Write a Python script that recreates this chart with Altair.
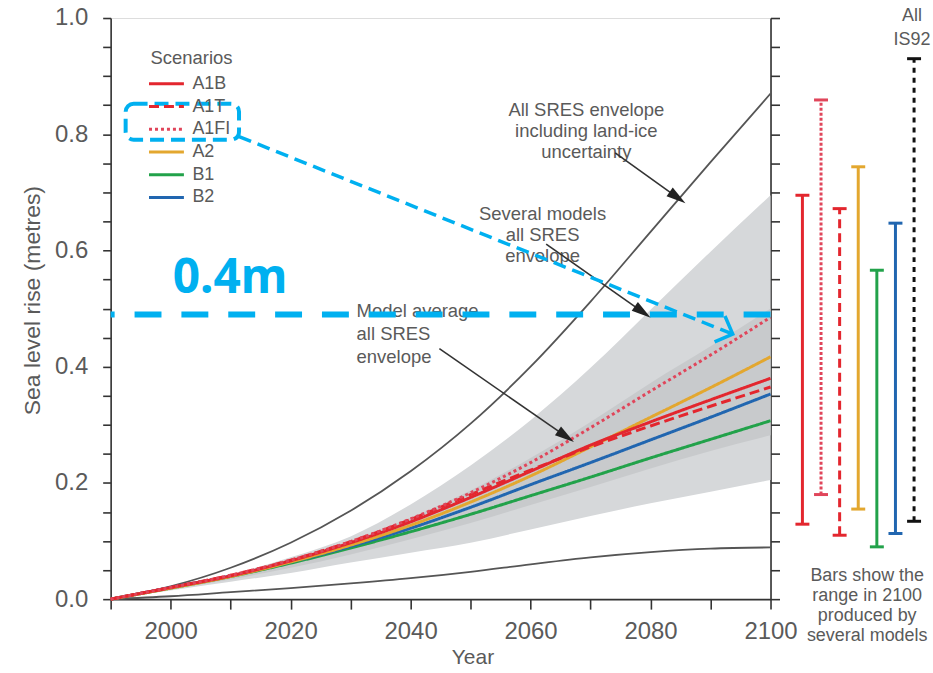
import math
import altair as alt
import pandas as pd

# ---------------- data ----------------
years = [1990, 2000, 2010, 2020, 2030, 2040, 2050, 2060, 2070, 2080, 2090, 2100]

env_upper = [0, 0.022, 0.054, 0.097, 0.152, 0.220, 0.302, 0.400, 0.512, 0.632, 0.752, 0.870]
env_lower = [0, 0.005, 0.012, 0.019, 0.027, 0.036, 0.047, 0.06, 0.072, 0.081, 0.087, 0.089]
models_hi = [0, 0.018, 0.042, 0.072, 0.108, 0.163, 0.230, 0.308, 0.398, 0.498, 0.598, 0.695]
models_lo = [0, 0.015, 0.03, 0.045, 0.063, 0.08, 0.097, 0.12, 0.143, 0.165, 0.185, 0.205]
avg_hi = [0, 0.021, 0.042, 0.069, 0.101, 0.14, 0.187, 0.243, 0.305, 0.372, 0.435, 0.50]
avg_lo = [0, 0.017, 0.034, 0.054, 0.077, 0.103, 0.131, 0.162, 0.193, 0.225, 0.255, 0.282]

scenarios = ["A1B", "A1T", "A1FI", "A2", "B1", "B2"]
s_A1B = [0, 0.02, 0.04, 0.066, 0.097, 0.133, 0.175, 0.22, 0.265, 0.305, 0.343, 0.38]
s_A1T = [0, 0.02, 0.041, 0.067, 0.099, 0.137, 0.18, 0.222, 0.262, 0.298, 0.332, 0.365]
s_A1FI = [0, 0.02, 0.041, 0.067, 0.099, 0.138, 0.183, 0.235, 0.295, 0.358, 0.42, 0.485]
s_A2 = [0, 0.019, 0.039, 0.064, 0.093, 0.127, 0.167, 0.212, 0.262, 0.313, 0.364, 0.417]
s_B1 = [0, 0.019, 0.039, 0.062, 0.088, 0.116, 0.146, 0.178, 0.21, 0.243, 0.275, 0.307]
s_B2 = [0, 0.02, 0.04, 0.064, 0.091, 0.122, 0.158, 0.197, 0.235, 0.274, 0.313, 0.353]

bar_scen = ["A1B", "A1FI", "A1T", "A2", "B1", "B2", "IS92"]
bar_lo = [0.129, 0.18, 0.11, 0.155, 0.09, 0.113, 0.134]
bar_hi = [0.695, 0.859, 0.672, 0.744, 0.566, 0.647, 0.93]

ann_text = ["All SRES envelope\nincluding land-ice\nuncertainty",
            "Several models\nall SRES\nenvelope",
            "Model average\nall SRES\nenvelope"]
ann_x = [2069.3, 2062.0, 2031.0]
ann_y = [0.842, 0.662, 0.496]          # first text line
arrow_x1 = [2074.1, 2062.6, 2044.8]
arrow_y1 = [0.768, 0.611, 0.431]
arrow_x2 = [2084.5, 2078.7, 2065.9]
arrow_y2 = [0.691, 0.494, 0.280]

cyan_level = 0.49
cyan_label = "0.4m"
cyan_label_x = 2009.9
cyan_label_y = 0.551
box_x = [1992.5, 2011.4]
box_y = [0.7907, 0.8525]
cyan_arrow = [2011.4, 0.796, 2093.7, 0.456]

bars_note = "Bars show the\nrange in 2100\nproduced by\nseveral models"
bars_note_y = 0.039                    # first text line
is92_note = "All\nIS92"
is92_note_y = 1.004                    # first text line

# ---------------- styles ----------------
W, H = 662, 583
FONT = "Liberation Sans"
GREY_TXT = "#5a5a5a"
AX = "#333333"
CYAN = "#00b0f0"
sc_colors = ["#e3262e", "#e3262e", "#e0455a", "#e3a72f", "#22a24a", "#2166b0"]
sc_dash = [[1, 0], [10, 5], [3, 3], [1, 0], [1, 0], [1, 0]]
bar_colors = ["#e3262e", "#e0455a", "#e3262e", "#e3a72f", "#22a24a", "#2166b0", "#111111"]
bar_dash = [[1, 0], [3, 2], [9, 5], [1, 0], [1, 0], [1, 0], [5, 5]]

X_SCALE = alt.Scale(domain=[1990, 2100], nice=False, zero=False)
Y_SCALE = alt.Scale(domain=[0, 1], nice=False, zero=False)

X_AXIS = alt.Axis(values=list(range(1990, 2101, 10)),
                  labelExpr="datum.value % 20 == 0 ? '' + datum.value : ''",
                  tickSize=10, tickWidth=1.6, tickColor=AX, domainColor=AX, domainWidth=1.6,
                  labelPadding=10, labelFontSize=24, labelFont=FONT, labelColor=GREY_TXT,
                  labelFlush=False, labelOverlap=False, grid=False,
                  title="Year", titleFont=FONT, titleFontSize=21, titleFontWeight="normal",
                  titleColor=GREY_TXT, titleX=363, titleY=59, titleAlign="center",
                  titleBaseline="middle")

y_ticks = [round(i * 0.05, 2) for i in range(21)]
Y_AXIS_L = alt.Axis(orient="left", values=y_ticks,
                    labelExpr="round(datum.value * 20) % 4 == 0 ? format(datum.value, '.1f') : ''",
                    tickSize=8, tickWidth=1.6, tickColor=AX, domainColor=AX, domainWidth=1.6,
                    labelPadding=15, labelFontSize=24, labelFont=FONT, labelColor=GREY_TXT,
                    labelFlush=False, labelOverlap=False, grid=False,
                    title="Sea level rise (metres)", titleFont=FONT, titleFontSize=23,
                    titleFontWeight="normal", titleColor=GREY_TXT, titleX=-78, titleY=283,
                    titleAngle=270, titleAlign="center", titleBaseline="middle")
Y_AXIS_R = alt.Axis(orient="right", values=y_ticks, labels=False, tickSize=9, tickWidth=1.6,
                    tickColor=AX, domainColor=AX, domainWidth=1.6, grid=False, title=None)


def X(field):
    return alt.X(field, scale=X_SCALE, axis=X_AXIS)


def Y(field, axis=None):
    return alt.Y(field, scale=Y_SCALE, axis=axis)


# ---------------- tables ----------------
band_df = pd.DataFrame({"year": years, "mlo": models_lo, "mhi": models_hi,
                        "alo": avg_lo, "ahi": avg_hi})
env_df = pd.concat([
    pd.DataFrame({"year": years, "value": env_upper, "series": "upper"}),
    pd.DataFrame({"year": years, "value": env_lower, "series": "lower"}),
])
sc_series = {"A1B": s_A1B, "A1T": s_A1T, "A1FI": s_A1FI, "A2": s_A2, "B1": s_B1, "B2": s_B2}
draw_order = ["B1", "B2", "A2", "A1B", "A1T", "A1FI"]
sc_df = pd.concat([pd.DataFrame({"year": years, "value": sc_series[s], "scenario": s})
                   for s in draw_order])

px_per_year = W / 110.0


def ang(x1, y1, x2, y2):
    return math.degrees(math.atan2(-(y2 - y1) * H, (x2 - x1) * px_per_year)) % 360


arr_df = pd.DataFrame({"x1": arrow_x1, "y1": arrow_y1, "x2": arrow_x2, "y2": arrow_y2})
arr_df["ang"] = [ang(a, b, c, d) for a, b, c, d in zip(arrow_x1, arrow_y1, arrow_x2, arrow_y2)]
ann_df = pd.DataFrame({"x": ann_x, "y": ann_y, "t": ann_text,
                       "align": ["center", "center", "left"]})

cy_df = pd.DataFrame({"x1": [cyan_arrow[0]], "y1": [cyan_arrow[1]],
                      "x2": [cyan_arrow[2]], "y2": [cyan_arrow[3]]})
cy_df["ang"] = [ang(*cyan_arrow)]

# ---------------- main panel ----------------
light = alt.Chart(band_df).mark_area(color="#d6d8da", interpolate="monotone").encode(
    x=X("year:Q"), y=Y("mlo:Q", Y_AXIS_L), y2="mhi:Q")
dark = alt.Chart(band_df).mark_area(color="#c8cacc", interpolate="monotone").encode(
    x=X("year:Q"), y=Y("alo:Q"), y2="ahi:Q")
env = alt.Chart(env_df).mark_line(color="#555555", strokeWidth=1.8, interpolate="monotone").encode(
    x=X("year:Q"), y=Y("value:Q", Y_AXIS_R), detail="series:N")

legend = alt.Legend(title="Scenarios", orient="none", legendX=40, legendY=31, padding=0,
                    symbolType="M-1.75,0H1.75", symbolSize=400, symbolStrokeWidth=3,
                    symbolOffset=4.5, labelOffset=14.5, rowPadding=1.8, titlePadding=5,
                    titleFont=FONT, titleFontSize=18.5, titleFontWeight="normal",
                    titleColor=GREY_TXT, labelFont=FONT, labelFontSize=18, labelColor=GREY_TXT)
lines = alt.Chart(sc_df).mark_line(strokeWidth=3, interpolate="monotone").encode(
    x=X("year:Q"), y=Y("value:Q"),
    color=alt.Color("scenario:N", scale=alt.Scale(domain=scenarios, range=sc_colors), legend=legend),
    strokeDash=alt.StrokeDash("scenario:N", scale=alt.Scale(domain=scenarios, range=sc_dash),
                              legend=legend))

ann_c = alt.Chart(ann_df[ann_df["align"] == "center"]).mark_text(
    font=FONT, fontSize=18.5, color=GREY_TXT, lineBreak="\n", lineHeight=21,
    align="center", baseline="middle").encode(x=X("x:Q"), y=Y("y:Q"), text="t:N")
ann_l = alt.Chart(ann_df[ann_df["align"] == "left"]).mark_text(
    font=FONT, fontSize=18.5, color=GREY_TXT, lineBreak="\n", lineHeight=23,
    align="left", baseline="middle").encode(x=X("x:Q"), y=Y("y:Q"), text="t:N")
shafts = alt.Chart(arr_df).mark_rule(color="#333333", strokeWidth=1.6).encode(
    x=X("x1:Q"), y=Y("y1:Q"), x2="x2:Q", y2="y2:Q")
heads = alt.Chart(arr_df).mark_point(shape="M1,0L-1,-0.55L-1,0.55Z", filled=True, size=380,
                                     color="#222222", opacity=1).encode(
    x=X("x2:Q"), y=Y("y2:Q"), angle=alt.Angle("ang:Q", scale=None))

cy_rule = alt.Chart(pd.DataFrame({"v": [cyan_level]})).mark_rule(
    color=CYAN, strokeWidth=6, strokeDash=[27, 20]).encode(y=Y("v:Q"))
cy_text = alt.Chart(pd.DataFrame({"x": [cyan_label_x], "y": [cyan_label_y], "t": [cyan_label]})).mark_text(
    font="Noto Sans", fontSize=48, fontWeight="bold", color=CYAN, align="center",
    baseline="middle").encode(x=X("x:Q"), y=Y("y:Q"), text="t:N")
cy_box = alt.Chart(pd.DataFrame({"x1": [box_x[0]], "x2": [box_x[1]], "y1": [box_y[0]], "y2": [box_y[1]]})).mark_rect(
    fill=None, fillOpacity=0, stroke=CYAN, strokeWidth=4, strokeDash=[14, 7], cornerRadius=8).encode(
    x=X("x1:Q"), x2="x2:Q", y=Y("y1:Q"), y2="y2:Q")
cy_shaft = alt.Chart(cy_df).mark_rule(color=CYAN, strokeWidth=3.5, strokeDash=[13, 7]).encode(
    x=X("x1:Q"), y=Y("y1:Q"), x2="x2:Q", y2="y2:Q")
cy_head = alt.Chart(cy_df).mark_point(shape="M-1,-1L0,0L-1,1", filled=False, size=784,
                                      color=CYAN, strokeWidth=3.5, opacity=1).encode(
    x=X("x2:Q"), y=Y("y2:Q"), angle=alt.Angle("ang:Q", scale=None))

main = alt.layer(light, dark, env, lines, ann_c, ann_l, shafts, heads,
                 cy_rule, cy_text, cy_box, cy_shaft, cy_head).resolve_axis(
    y="independent").properties(width=W, height=H)

# ---------------- right panel: 2100 ranges ----------------
SIDE_W = 163
bars_df = pd.DataFrame({"scen": bar_scen, "i": list(range(len(bar_scen))),
                        "lo": bar_lo, "hi": bar_hi})
step = 18.67
PX_SCALE = alt.Scale(domain=[-32 / step, len(bar_scen) - 1 + 19 / step], nice=False, zero=False)
PX = alt.X("i:Q", scale=PX_SCALE, axis=None)
BC = alt.Color("scen:N", scale=alt.Scale(domain=bar_scen, range=bar_colors), legend=None)
BD = alt.StrokeDash("scen:N", scale=alt.Scale(domain=bar_scen, range=bar_dash), legend=None)

b_rules = alt.Chart(bars_df).mark_rule(strokeWidth=3).encode(
    x=PX, y=Y("lo:Q"), y2="hi:Q", color=BC, strokeDash=BD)
b_caps = alt.Chart(bars_df).transform_fold(["lo", "hi"], as_=["end", "val"]).mark_tick(
    thickness=3, size=14, opacity=1, orient="horizontal").encode(x=PX, y=Y("val:Q"), color=BC)
is92_i = bar_scen.index("IS92")
b_top = alt.Chart(pd.DataFrame({"i": [is92_i], "v": [is92_note_y], "t": [is92_note]})).mark_text(
    font=FONT, fontSize=18, color=GREY_TXT, lineBreak="\n", lineHeight=24, align="center",
    baseline="middle", dx=-2).encode(x=PX, y=Y("v:Q"), text="t:N")
b_note = alt.Chart(pd.DataFrame({"i": [bar_scen.index("A2")], "v": [bars_note_y], "t": [bars_note]})).mark_text(
    font=FONT, fontSize=18, color=GREY_TXT, lineBreak="\n", lineHeight=20, align="center",
    baseline="middle", dx=9).encode(x=PX, y=Y("v:Q"), text="t:N")

side = alt.layer(b_rules, b_caps, b_top, b_note).properties(
    width=SIDE_W, height=H, view=alt.ViewBackground(stroke=None))

chart = alt.hconcat(main, side, spacing=0, bounds="flush").resolve_scale(
    color="independent", strokeDash="independent", x="independent", y="independent"
).properties(
    padding={"left": 21, "top": 4, "right": 0, "bottom": 0}
).configure_view(stroke=AX, strokeWidth=1.6).configure(background="white")

chart.save("out.html", embed_options={"renderer": "svg", "actions": False})
